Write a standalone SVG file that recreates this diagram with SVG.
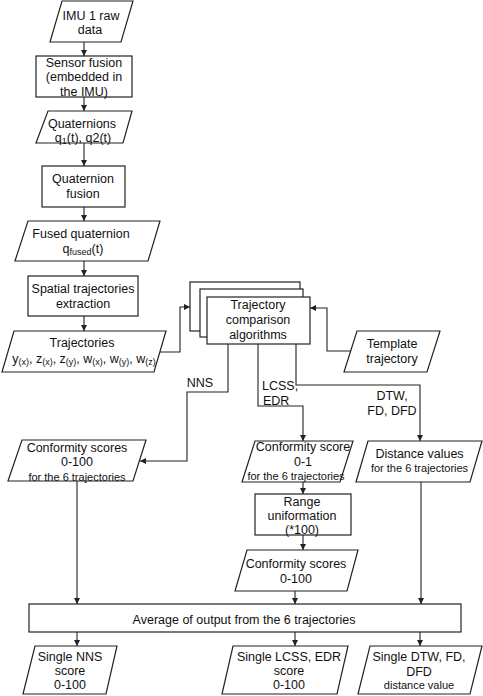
<svg xmlns="http://www.w3.org/2000/svg" width="483" height="696" viewBox="0 0 483 696">
<style>
.s{fill:#fff;stroke:#222;stroke-width:1.2}
.c{fill:none;stroke:#222;stroke-width:1.1}
text{font-family:"Liberation Sans",Arial,sans-serif;font-size:12.5px;fill:#111;text-anchor:middle}
.sm{font-size:11px}
.sub{font-size:9px}
</style>
<defs>
<marker id="ah" viewBox="0 0 10 10" refX="10" refY="5" markerWidth="6" markerHeight="6" markerUnits="userSpaceOnUse" orient="auto">
<path d="M0,0 L10,5 L0,10 Z" fill="#222"/>
</marker>
</defs>
<rect width="483" height="696" fill="#fff"/>
<g id="connectors">
<path class="c" marker-end="url(#ah)" d="M84,42 V56"/>
<path class="c" marker-end="url(#ah)" d="M84,97 V111"/>
<path class="c" marker-end="url(#ah)" d="M84,143 V166"/>
<path class="c" marker-end="url(#ah)" d="M84,207 V221"/>
<path class="c" marker-end="url(#ah)" d="M84,261 V276"/>
<path class="c" marker-end="url(#ah)" d="M84,316 V331"/>
<path class="c" marker-end="url(#ah)" d="M160,352 H180 V307 H190"/>
<path class="c" marker-end="url(#ah)" d="M351,351 H327 V308 H310"/>
<path class="c" marker-end="url(#ah)" d="M228,344 V392 H187 V461 H140"/>
<path class="c" marker-end="url(#ah)" d="M258,344 V406 H303 V441"/>
<path class="c" marker-end="url(#ah)" d="M296,344 V385 H420 V441"/>
<path class="c" marker-end="url(#ah)" d="M77,481 V604"/>
<path class="c" marker-end="url(#ah)" d="M303,481 V494"/>
<path class="c" marker-end="url(#ah)" d="M303,535 V550"/>
<path class="c" marker-end="url(#ah)" d="M295,591 V604"/>
<path class="c" marker-end="url(#ah)" d="M421,481 V604"/>
<path class="c" marker-end="url(#ah)" d="M77,632 V646"/>
<path class="c" marker-end="url(#ah)" d="M295,632 V646"/>
<path class="c" marker-end="url(#ah)" d="M420,632 V646"/>
<text x="200" y="386.5">NNS</text>
<text x="262" y="389.5" style="text-anchor:start">LCSS,</text>
<text x="263" y="404.5" style="text-anchor:start">EDR</text>
<text x="392" y="399.5">DTW,</text>
<text x="392" y="414.5">FD, DFD</text>
</g>
<g id="imu">
<polygon class="s" points="62,1 133,1 121,42 50,42"/>
<text x="91" y="19.5">IMU 1 raw</text>
<text x="90" y="33.5">data</text>
</g>
<g id="sensor-fusion">
<rect class="s" x="36" y="56" width="96" height="41"/>
<text x="84" y="66.5">Sensor fusion</text>
<text x="84" y="81">(embedded in</text>
<text x="84" y="95.5">the IMU)</text>
</g>
<g id="quaternions">
<polygon class="s" points="48,111 132,111 123,143 36,143"/>
<text x="82" y="127.5">Quaternions</text>
<text x="83" y="142">q<tspan class="sub" dy="2">1</tspan><tspan dy="-2">(t), q2(t)</tspan></text>
</g>
<g id="quaternion-fusion">
<rect class="s" x="42" y="166" width="83" height="41"/>
<text x="83" y="182.5">Quaternion</text>
<text x="83" y="197.5">fusion</text>
</g>
<g id="fused-quaternion">
<polygon class="s" points="28,221 160,221 148,261 15,261"/>
<text x="81" y="237.5">Fused quaternion</text>
<text x="83" y="253">q<tspan class="sub" dy="2">fused</tspan><tspan dy="-2">(t)</tspan></text>
</g>
<g id="spatial">
<rect class="s" x="28" y="276" width="110" height="40"/>
<text x="83" y="292.5">Spatial trajectories</text>
<text x="83" y="307.5">extraction</text>
</g>
<g id="trajectories">
<polygon class="s" points="14,331 166,331 154,372 2,372"/>
<text x="82" y="346.5">Trajectories</text>
<text x="84" y="362.5">y<tspan class="sub" dy="2">(x)</tspan><tspan dy="-2">, z</tspan><tspan class="sub" dy="2">(x)</tspan><tspan dy="-2">, z</tspan><tspan class="sub" dy="2">(y)</tspan><tspan dy="-2">, w</tspan><tspan class="sub" dy="2">(x)</tspan><tspan dy="-2">, w</tspan><tspan class="sub" dy="2">(y)</tspan><tspan dy="-2">, w</tspan><tspan class="sub" dy="2">(z)</tspan></text>
</g>
<g id="comparison">
<rect class="s" x="190" y="282" width="110" height="49"/>
<rect class="s" x="200" y="289" width="103" height="48"/>
<rect class="s" x="207" y="297" width="103" height="47"/>
<text x="258" y="308.5">Trajectory</text>
<text x="258" y="324">comparison</text>
<text x="258" y="338.5">algorithms</text>
</g>
<g id="template">
<polygon class="s" points="357,331 440,331 427,372 344,372"/>
<text x="392" y="347.5">Template</text>
<text x="392" y="363">trajectory</text>
</g>
<g id="conformity-left">
<polygon class="s" points="22,440 146,440 133,481 8,481"/>
<text x="77" y="451.5">Conformity scores</text>
<text x="77" y="465.5">0-100</text>
<text class="sm" x="77" y="481">for the 6 trajectories</text>
</g>
<g id="conformity-01">
<polygon class="s" points="255,441 353,441 340,482 242,482"/>
<text x="303" y="450.5">Conformity score</text>
<text x="303" y="466">0-1</text>
<text class="sm" x="296" y="480">for the 6 trajectories</text>
</g>
<g id="distance">
<polygon class="s" points="368,441 482,441 470,482 356,482"/>
<text x="419.5" y="457.5">Distance values</text>
<text class="sm" x="419.5" y="472">for the 6 trajectories</text>
</g>
<g id="range">
<rect class="s" x="255" y="494" width="96" height="41"/>
<text x="302" y="505.5">Range</text>
<text x="302" y="519.5">uniformation</text>
<text x="302" y="534">(*100)</text>
</g>
<g id="conformity-mid">
<polygon class="s" points="247,550 358,550 347,591 235,591"/>
<text x="296" y="567.5">Conformity scores</text>
<text x="296" y="582.5">0-100</text>
</g>
<g id="average">
<rect class="s" x="29" y="604" width="432" height="28"/>
<text x="244" y="623.5">Average of output from the 6 trajectories</text>
</g>
<g id="single-nns">
<polygon class="s" points="35,646 117,646 106,694 23,694"/>
<text x="70" y="660.5">Single NNS</text>
<text x="70" y="674.5">score</text>
<text x="70" y="688.5">0-100</text>
</g>
<g id="single-lcss">
<polygon class="s" points="233,646 348,646 337,694 222,694"/>
<text x="289" y="660.5">Single LCSS, EDR</text>
<text x="289" y="674.5">score</text>
<text x="289" y="688.5">0-100</text>
</g>
<g id="single-dtw">
<polygon class="s" points="370,646 482,646 470,694 358,694"/>
<text x="419" y="660.5">Single DTW, FD,</text>
<text x="419" y="675.5">DFD</text>
<text class="sm" x="419" y="689">distance value</text>
</g>
</svg>
